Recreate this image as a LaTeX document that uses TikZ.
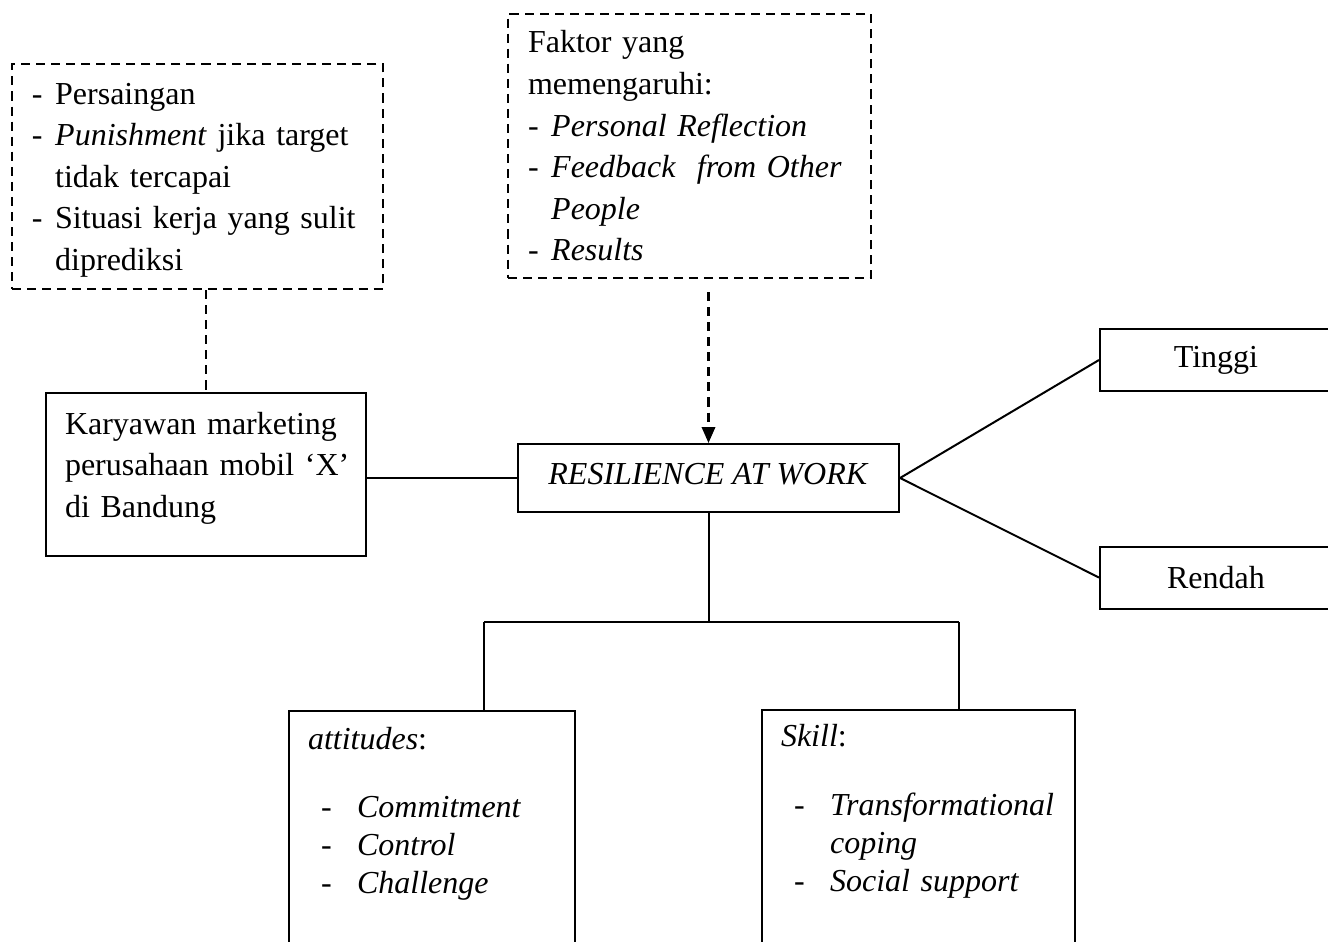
\documentclass[tikz,border=0pt]{standalone}
\usepackage{fontspec}
\setmainfont{Liberation Serif}
\usetikzlibrary{arrows.meta}

\newcommand{\dsh}{\makebox[8.7pt][l]{-}}
\newcommand{\dshind}{\hspace*{8.7pt}}
\newcommand{\itm}{\hspace*{4.9pt}\makebox[13.5pt][l]{-}}
\newcommand{\itmind}{\hspace*{18.4pt}}

\begin{document}
\begin{tikzpicture}[x=0.375pt, y=-0.375pt,
    font=\fontsize{12}{15.6}\selectfont,
    box/.style={draw, line width=0.75pt, anchor=north west,
        align=left, inner ysep=0pt, inner xsep=7.5pt},
    dbox/.style={box, dash pattern=on 3.4pt off 2.25pt},
    cbox/.style={draw, line width=0.75pt, inner sep=0pt},
    conn/.style={line width=0.75pt},
    dconn/.style={line width=0.75pt, dash pattern=on 3.4pt off 2.25pt}]
    \useasboundingbox (0,0) rectangle (1328,941);
    \clip (0,0) rectangle (1328,941);

    \draw (11,63) node(P) [dbox,
        text width = 124.1pt,
        text height = 15pt,
        text depth = 69.4pt
    ]
    {\mbox{\dsh Persaingan}\\ \mbox{\dsh\textit{Punishment} jika target}\\
     \mbox{\dshind tidak tercapai}\\ \mbox{\dsh Situasi kerja yang sulit}\\
     \mbox{\dshind diprediksi}};
    \draw (507,13) node(F) [dbox,
        text width = 121.1pt,
        text height = 14.6pt,
        text depth = 84.4pt
    ]
    {\mbox{Faktor yang}\\ \mbox{memengaruhi:}\\
     \mbox{\dsh\textit{Personal Reflection}}\\
     \mbox{\dsh\textit{Feedback\ \ from Other}}\\ \mbox{\dshind\textit{People}}\\
     \mbox{\dsh\textit{Results}}};
    \draw (45,392) node(K) [box,
        inner xsep = 7.125pt,
        text width = 105.75pt,
        text height = 15.4pt,
        text depth = 45.75pt
    ]
    {\mbox{Karyawan marketing}\\ \mbox{perusahaan mobil ‘X’}\\
     \mbox{di Bandung}};
    \draw (708.5,478) node(R) [cbox,
        minimum width = 142.9pt,
        minimum height = 25.5pt,
        text height = 8pt, text depth = 3.5pt
    ]
    {\textit{RESILIENCE AT WORK}};
    \draw (1216,360) node(T) [cbox,
        minimum width = 87pt, minimum height = 23.25pt] {Tinggi};
    \draw (1216,577.5) node(D) [cbox,
        minimum width = 87pt, minimum height = 23.25pt] {Rendah};
    \draw (288,710) node(A) [box,
        font = \fontsize{12}{14.25}\selectfont,
        inner xsep = 7.125pt,
        text width = 93pt,
        text height = 14.25pt,
        text depth = 80pt
    ]
    {\mbox{\textit{attitudes}:}\\[11.6pt] \mbox{\itm\textit{Commitment}}\\
     \mbox{\itm\textit{Control}}\\ \mbox{\itm\textit{Challenge}}};
    \draw (761,709) node(S) [box,
        font = \fontsize{12}{14.25}\selectfont,
        inner xsep = 7.125pt,
        text width = 103pt,
        text height = 13.8pt,
        text depth = 80pt
    ]
    {\mbox{\textit{Skill}:}\\[11.6pt] \mbox{\itm\textit{Transformational}}\\
     \mbox{\itmind\textit{coping}}\\ \mbox{\itm\textit{Social support}}};

    \draw [dconn] (K.north |- P.south) -- (K.north);
    \path (R.north |- F.south) ++(0,13) coordinate (Fa);
    \draw [dconn, line width = 0.9pt,
        -{Triangle[length = 6pt, width = 5pt]}] (Fa) -- (R.north);
    \draw [conn] (K.east |- R.west) -- (R.west);
    \draw [conn] (R.east) -- (T.west);
    \draw [conn] (R.east) -- (D.west);
    \coordinate (ML) at (484,622);
    \coordinate (MR) at (959,622);
    \draw [conn] (R.south) -- (R.south |- ML);
    \draw [conn] (ML) -- (MR);
    \draw [conn] (ML) -- (ML |- A.north);
    \draw [conn] (MR) -- (MR |- S.north);
\end{tikzpicture}
\end{document}
